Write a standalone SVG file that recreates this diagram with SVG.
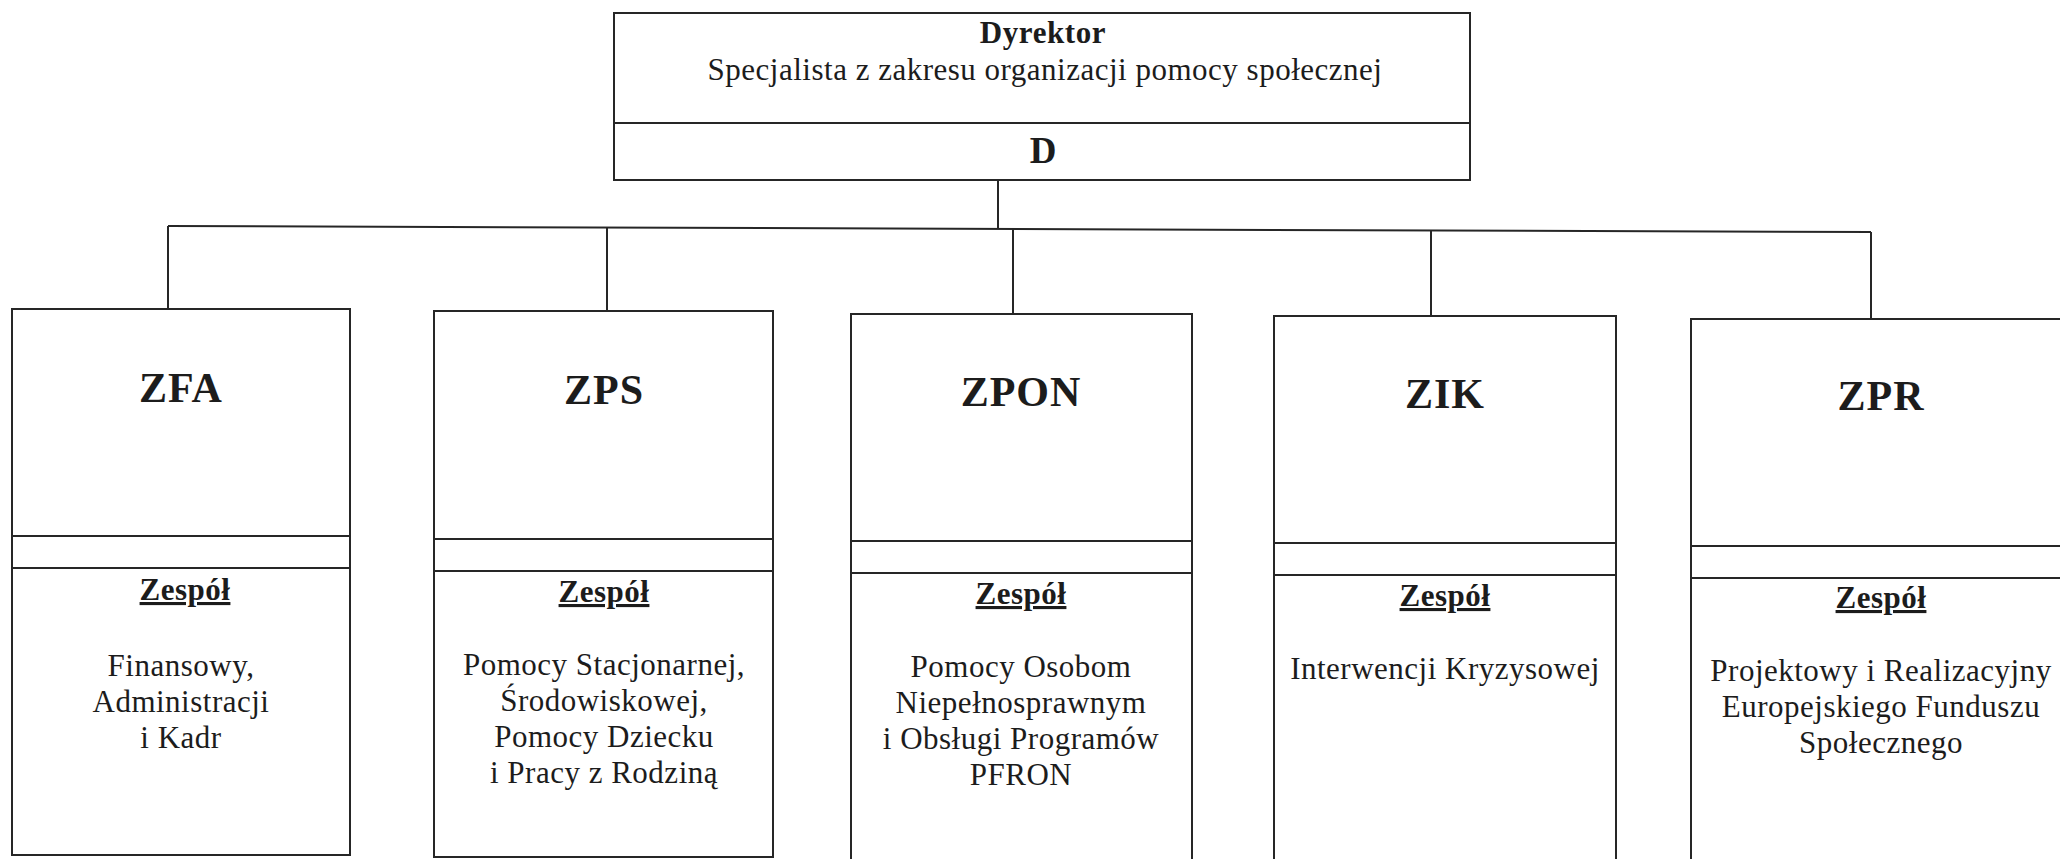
<svg xmlns="http://www.w3.org/2000/svg" width="2060" height="859" viewBox="0 0 2060 859">
<style>
  .box { fill: #ffffff; stroke: #262626; stroke-width: 2; }
  .div { stroke: #262626; stroke-width: 2; }
  .conn { stroke: #262626; stroke-width: 2; fill: none; }
  text { font-family: "Liberation Serif", "Times New Roman", serif; fill: #1c1c1c; text-anchor: middle; }
  .code { font-weight: bold; font-size: 42px; letter-spacing: 1px; }
  .team { font-weight: bold; font-size: 31px; letter-spacing: 0.5px; text-decoration: underline; }
  .body { font-size: 31px; letter-spacing: 0.5px; }
  .title { font-weight: bold; font-size: 31px; letter-spacing: 0.6px; }
  .d { font-weight: bold; font-size: 37px; }
</style>
<rect x="0" y="0" width="2060" height="859" fill="#ffffff"/>

<g id="connectors">
  <line class="conn" x1="998" y1="180" x2="998" y2="229"/>
  <line class="conn" x1="168" y1="226" x2="1871" y2="232"/>
  <line class="conn" x1="168" y1="226" x2="168" y2="309"/>
  <line class="conn" x1="607" y1="227" x2="607" y2="311"/>
  <line class="conn" x1="1013" y1="229" x2="1013" y2="314"/>
  <line class="conn" x1="1431" y1="230" x2="1431" y2="316"/>
  <line class="conn" x1="1871" y1="232" x2="1871" y2="319"/>
</g>

<g id="node-D">
  <rect class="box" x="614" y="13" width="856" height="167"/>
  <line class="div" x1="614" y1="123" x2="1470" y2="123"/>
  <text class="title" x="1043" y="43">Dyrektor</text>
  <text class="body" x="1045" y="80">Specjalista z zakresu organizacji pomocy społecznej</text>
  <text class="d" x="1043" y="163">D</text>
</g>

<g id="node-ZFA">
  <rect class="box" x="12" y="309" width="338" height="546"/>
  <line class="div" x1="12" y1="536" x2="350" y2="536"/>
  <line class="div" x1="12" y1="568" x2="350" y2="568"/>
  <text class="code" x="181" y="402">ZFA</text>
  <text class="team" x="185" y="600">Zespół</text>
  <text class="body" x="181" y="676">Finansowy,</text>
  <text class="body" x="181" y="712">Administracji</text>
  <text class="body" x="181" y="748">i Kadr</text>
</g>

<g id="node-ZPS">
  <rect class="box" x="434" y="311" width="339" height="546"/>
  <line class="div" x1="434" y1="539" x2="773" y2="539"/>
  <line class="div" x1="434" y1="571" x2="773" y2="571"/>
  <text class="code" x="604" y="404">ZPS</text>
  <text class="team" x="604" y="602">Zespół</text>
  <text class="body" x="604" y="675">Pomocy Stacjonarnej,</text>
  <text class="body" x="604" y="711">Środowiskowej,</text>
  <text class="body" x="604" y="747">Pomocy Dziecku</text>
  <text class="body" x="604" y="783">i Pracy z Rodziną</text>
</g>

<g id="node-ZPON">
  <rect class="box" x="851" y="314" width="341" height="547"/>
  <line class="div" x1="851" y1="541" x2="1192" y2="541"/>
  <line class="div" x1="851" y1="573" x2="1192" y2="573"/>
  <text class="code" x="1021" y="406">ZPON</text>
  <text class="team" x="1021" y="604">Zespół</text>
  <text class="body" x="1021" y="677">Pomocy Osobom</text>
  <text class="body" x="1021" y="713">Niepełnosprawnym</text>
  <text class="body" x="1021" y="749">i Obsługi Programów</text>
  <text class="body" x="1021" y="785">PFRON</text>
</g>

<g id="node-ZIK">
  <rect class="box" x="1274" y="316" width="342" height="547"/>
  <line class="div" x1="1274" y1="543" x2="1616" y2="543"/>
  <line class="div" x1="1274" y1="575" x2="1616" y2="575"/>
  <text class="code" x="1445" y="408">ZIK</text>
  <text class="team" x="1445" y="606">Zespół</text>
  <text class="body" x="1445" y="679">Interwencji Kryzysowej</text>
</g>

<g id="node-ZPR">
  <rect class="box" x="1691" y="319" width="380" height="547"/>
  <line class="div" x1="1691" y1="546" x2="2071" y2="546"/>
  <line class="div" x1="1691" y1="578" x2="2071" y2="578"/>
  <text class="code" x="1881" y="410">ZPR</text>
  <text class="team" x="1881" y="608">Zespół</text>
  <text class="body" x="1881" y="681">Projektowy i Realizacyjny</text>
  <text class="body" x="1881" y="717">Europejskiego Funduszu</text>
  <text class="body" x="1881" y="753">Społecznego</text>
</g>
</svg>
